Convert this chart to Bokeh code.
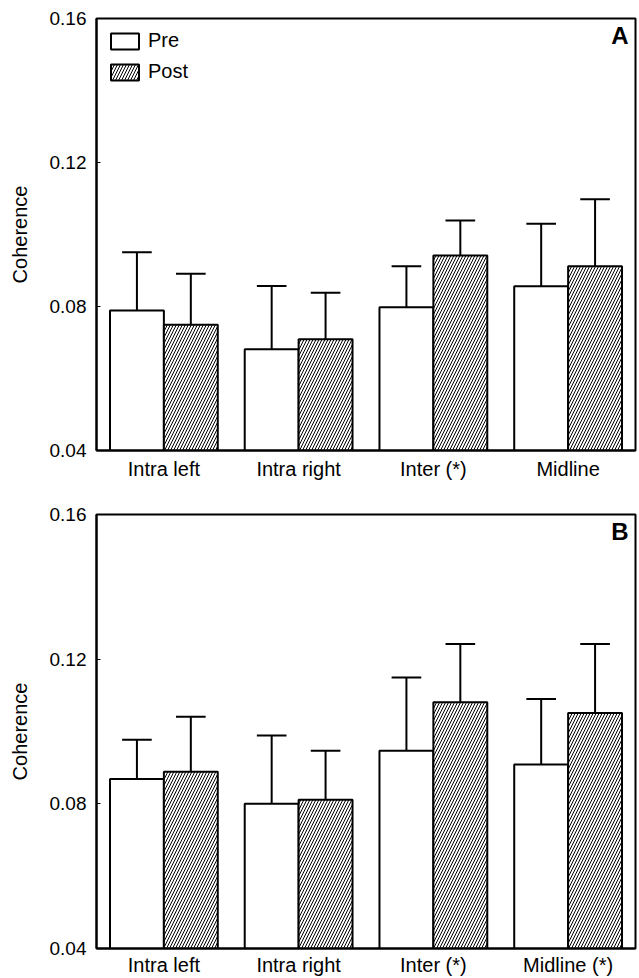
from bokeh.plotting import figure
from bokeh.layouts import column
from bokeh.models import Range1d, FixedTicker, Label, PrintfTickFormatter
from bokeh.embed import file_html
from bokeh.resources import INLINE

# ---- data ----
categories_A = ["Intra left", "Intra right", "Inter (*)", "Midline"]
categories_B = ["Intra left", "Intra right", "Inter (*)", "Midline (*)"]
pre_A = [0.0789, 0.0681, 0.0798, 0.0856]
pre_A_sd = [0.0162, 0.0176, 0.0114, 0.0174]
post_A = [0.0749, 0.0709, 0.0942, 0.0912]
post_A_sd = [0.0142, 0.0129, 0.0097, 0.0186]
pre_B = [0.0869, 0.0800, 0.0947, 0.0909]
pre_B_sd = [0.0108, 0.0189, 0.0202, 0.0181]
post_B = [0.0889, 0.0811, 0.1081, 0.1051]
post_B_sd = [0.0152, 0.0136, 0.0161, 0.0191]
y_ticks = [0.04, 0.08, 0.12, 0.16]

FONT = "Liberation Sans"
BAR_W = 0.4
CAP = 0.11


def make_panel(cats, pre, pre_sd, post, post_sd, letter, legend, top_border, bottom_border,
               fh, xstand):
    p = figure(frame_width=539, frame_height=fh,
               x_range=Range1d(0, len(cats)), y_range=Range1d(0.04, 0.16),
               output_backend="svg", toolbar_location=None,
               min_border_left=96, min_border_right=4, min_border_top=top_border,
               min_border_bottom=bottom_border)
    p.grid.visible = False
    p.outline_line_color = "black"
    p.outline_line_width = 2
    p.background_fill_color = "white"

    centers = [i + 0.5 for i in range(len(cats))]
    xpre = [c - BAR_W / 2 for c in centers]
    xpost = [c + BAR_W / 2 for c in centers]

    for xs, vals, sds in ((xpre, pre, pre_sd), (xpost, post, post_sd)):
        tops = [v + s for v, s in zip(vals, sds)]
        p.segment(x0=xs, y0=vals, x1=xs, y1=tops, line_color="black", line_width=2)
        p.segment(x0=[x - CAP for x in xs], y0=tops, x1=[x + CAP for x in xs], y1=tops,
                  line_color="black", line_width=2)

    kw_pre = dict(legend_label="Pre") if legend else {}
    kw_post = dict(legend_label="Post") if legend else {}
    p.vbar(x=xpre, top=pre, bottom=0.04, width=BAR_W, fill_color="white",
           line_color="black", line_width=2, **kw_pre)
    p.vbar(x=xpost, top=post, bottom=0.04, width=BAR_W, fill_color="white",
           line_color="black", line_width=2, hatch_pattern="/", hatch_color="black",
           hatch_scale=6, hatch_weight=1, **kw_post)

    # axes
    ya = p.yaxis[0]
    ya.ticker = FixedTicker(ticks=y_ticks)
    ya.formatter = PrintfTickFormatter(format="%.2f")
    ya.major_tick_in = 4
    ya.major_tick_out = 0
    ya.minor_tick_line_color = None
    ya.major_label_standoff = 10
    ya.major_label_text_font = FONT
    ya.major_label_text_font_size = "19px"
    ya.major_label_text_color = "black"
    ya.axis_line_width = 2
    ya.axis_label = "Coherence"
    ya.axis_label_text_font = FONT
    ya.axis_label_text_font_size = "20px"
    ya.axis_label_text_font_style = "normal"
    ya.axis_label_text_color = "black"
    ya.axis_label_standoff = 16

    xa = p.xaxis[0]
    xa.ticker = FixedTicker(ticks=centers)
    xa.major_label_overrides = {c: name for c, name in zip(centers, cats)}
    xa.major_tick_in = 0
    xa.major_tick_out = 0
    xa.minor_tick_line_color = None
    xa.major_label_standoff = xstand
    xa.major_label_text_font = FONT
    xa.major_label_text_font_size = "20px"
    xa.major_label_text_color = "black"
    xa.axis_line_width = 2

    p.add_layout(Label(x=len(cats), y=0.16, text=letter, x_offset=-7, y_offset=-3,
                       text_align="right", text_baseline="top", text_font=FONT,
                       text_font_size="24px", text_font_style="bold", text_color="black"))

    if legend:
        lg = p.legend[0]
        lg.location = "top_left"
        lg.border_line_alpha = 0
        lg.background_fill_alpha = 0
        lg.glyph_width = 35
        lg.glyph_height = 20
        lg.label_height = 20
        lg.label_text_font = FONT
        lg.label_text_font_size = "20px"
        lg.label_text_color = "black"
        lg.label_standoff = 6
        lg.spacing = 8
        lg.padding = 0
        lg.margin = 11
    return p


pA = make_panel(categories_A, pre_A, pre_A_sd, post_A, post_A_sd, "A", True, 18, 40, 432, 7)
pB = make_panel(categories_B, pre_B, pre_B_sd, post_B, post_B_sd, "B", False, 24, 30, 434, 5)

layout = column(pA, pB, spacing=0)
open("out.html", "w").write(file_html(layout, INLINE))
